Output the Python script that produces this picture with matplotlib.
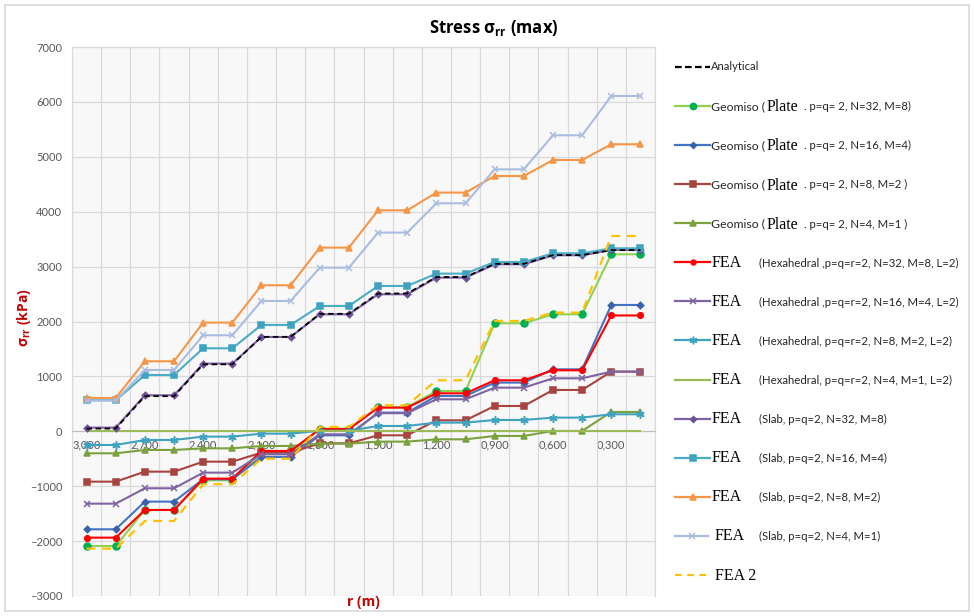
import matplotlib
matplotlib.use('Agg')
import matplotlib.pyplot as plt
from matplotlib.patches import Rectangle
import numpy as np

plt.rcParams['font.family'] = ['Lato', 'DejaVu Sans']
plt.rcParams['mathtext.fontset'] = 'custom'
plt.rcParams['mathtext.rm'] = 'Open Sans:bold'
plt.rcParams['mathtext.it'] = 'Open Sans:bold'
plt.rcParams['mathtext.bf'] = 'Open Sans:bold'

# rayon (m) - categories de l'axe x
r_values = [3.000, 2.850, 2.700, 2.550, 2.400, 2.250, 2.100, 1.950, 1.800, 1.650,
            1.500, 1.350, 1.200, 1.050, 0.900, 0.750, 0.600, 0.450, 0.300, 0.150]

analytical = [50, 50, 640, 640, 1220, 1220, 1720, 1720, 2140, 2140,
              2510, 2510, 2810, 2810, 3050, 3050, 3210, 3210, 3300, 3300]
geo_32 = [-2089, -2089, -1433, -1433, -893, -893, -389, -389, 49, 49,
          440, 440, 734, 734, 1967, 1967, 2131, 2131, 3224, 3224]
geo_16 = [-1785, -1785, -1281, -1281, -874, -874, -468, -468, -73, -73,
          340, 340, 644, 644, 887, 887, 1129, 1129, 2301, 2301]
geo_8 = [-917, -917, -735, -735, -553, -553, -389, -389, -219, -219,
         -73, -73, 200, 200, 461, 461, 753, 753, 1087, 1087]
geo_4 = [-401, -401, -340, -340, -310, -310, -267, -267, -225, -225,
         -188, -188, -146, -146, -85, -85, 6, 6, 352, 352]
hex_32 = [-1937, -1937, -1433, -1433, -862, -862, -358, -358, 40, 40,
          431, 431, 692, 692, 929, 929, 1111, 1111, 2110, 2110]
hex_16 = [-1318, -1318, -1038, -1038, -753, -753, -419, -419, -55, -55,
          330, 330, 583, 583, 795, 795, 965, 965, 1087, 1087]
hex_8 = [-249, -249, -158, -158, -97, -97, -43, -43, 10, 10,
         97, 97, 158, 158, 206, 206, 249, 249, 310, 310]
hex_4 = [0] * 20
slab_32 = [67, 67, 656, 656, 1233, 1233, 1718, 1718, 2131, 2131,
           2495, 2495, 2799, 2799, 3042, 3042, 3206, 3206, 3303, 3303]
slab_16 = [565, 565, 1026, 1026, 1512, 1512, 1937, 1937, 2283, 2283,
           2647, 2647, 2872, 2872, 3084, 3084, 3242, 3242, 3333, 3333]
slab_8 = [607, 607, 1275, 1275, 1980, 1980, 2660, 2660, 3346, 3346,
          4025, 4025, 4348, 4348, 4650, 4650, 4942, 4942, 5228, 5228]
slab_4 = [560, 560, 1117, 1117, 1749, 1749, 2374, 2374, 2981, 2981,
          3619, 3619, 4153, 4153, 4772, 4772, 5392, 5392, 6108, 6108]
fea_2 = [-2137, -2137, -1633, -1633, -965, -965, -498, -498, 79, 79,
         474, 474, 929, 929, 2010, 2010, 2162, 2162, 3558, 3558]

# (valeurs, couleur ligne, marqueur, taille, couleur marqueur)
series = [
    (geo_32, '#92D050', 'o', 5, '#00B050'),
    (geo_16, '#4472C4', 'D', 3.3, '#3A62AA'),
    (geo_8, '#A8443F', 's', 4.5, '#A8443F'),
    (geo_4, '#7BA23F', '^', 5, '#7BA23F'),
    (hex_32, '#FF0000', 'o', 4, '#FF0000'),
    (hex_16, '#8064A2', 'x', 5, '#8064A2'),
    (hex_8, '#3FA3BF', (6, 2, 0), 6, '#3FA3BF'),
    (hex_4, '#9BBB59', None, 0, '#9BBB59'),
    (slab_32, '#7F5FA8', 'D', 3.3, '#6F4F98'),
    (slab_16, '#4BACC6', 's', 4.5, '#3FA3BF'),
    (slab_8, '#F79646', '^', 5, '#F79646'),
    (slab_4, '#AABDE1', 'x', 5, '#AABDE1'),
]

fig = plt.figure(figsize=(9.74, 6.16), dpi=100)
W, H = 974, 616
ax = fig.add_axes([72 / W, 1 - 596 / H, (655 - 72) / W, (596 - 47) / H])
ax.set_facecolor('#F8F8F8')

x = np.arange(len(r_values))
for vals, col, mk, ms, mc in series:
    ax.plot(x, vals, color=col, lw=1.5, marker=mk, ms=ms,
            mfc=mc, mec=mc, mew=1.1, zorder=3)
ax.plot(x, analytical, color='black', lw=1.3, ls=(0, (3, 2)), zorder=4)
ax.plot(x, fea_2, color='#FFC000', lw=1.6, ls=(0, (4, 3)), zorder=4)

ax.set_xlim(-0.5, len(r_values) - 0.5)
ax.set_ylim(-3000, 7000)
ax.set_yticks(range(-3000, 7001, 1000))
ax.set_xticks(x[::2])
ax.set_xticklabels([f"{r:.3f}".replace('.', ',') for r in r_values[::2]])
ax.set_xticks(np.arange(-0.5, len(r_values), 1), minor=True)
ax.grid(axis='y', which='major', color='#D9D9D9', lw=0.9)
ax.grid(axis='x', which='minor', color='#D9D9D9', lw=0.9)
ax.set_axisbelow(True)
ax.tick_params(which='both', length=0, colors='#595959', labelsize=8)
ax.tick_params(axis='y', pad=7)
ax.tick_params(axis='x', pad=6)
ax.spines['bottom'].set_position(('data', 0))
ax.spines['bottom'].set_color('#BFBFBF')
for s in ['top', 'left', 'right']:
    ax.spines[s].set_color('#D9D9D9')

# calque en pixels pour titre, etiquettes et legende
lax = fig.add_axes([0, 0, 1, 1], zorder=-1)
lax.set_xlim(0, W)
lax.set_ylim(H, 0)
lax.axis('off')
lax.add_patch(Rectangle((5, 5), 964, 606, fill=False, ec='#D9D9D9', lw=1.2))

over = fig.add_axes([0, 0, 1, 1], zorder=5)
over.set_xlim(0, W)
over.set_ylim(H, 0)
over.axis('off')
over.patch.set_alpha(0)

over.text(494, 28, 'Stress σ$_{rr}$ (max)', ha='center', va='center', fontsize=12,
          fontweight='bold', family=['Open Sans'])
over.text(24, 318, 'σ$_{rr}$ (kPa)', ha='center', va='center', rotation=90,
          fontsize=10, fontweight='bold', color='#C00000', family=['Open Sans'])
over.text(363, 602, 'r (m)', ha='center', va='center', fontsize=10,
          fontweight='bold', color='#C00000', family=['Open Sans'])

# legende
legend_rows = [
    ('Analytical', None, 'black', None, 0, 'black', (0, (3, 1.5))),
    ('geo', '. p=q= 2, N=32, M=8)', '#92D050', 'o', 4.5, '#00B050', '-'),
    ('geo', '. p=q= 2, N=16, M=4)', '#4472C4', 'D', 3, '#3A62AA', '-'),
    ('geo', '. p=q= 2, N=8, M=2 )', '#A8443F', 's', 4, '#A8443F', '-'),
    ('geo', '. p=q= 2, N=4, M=1 )', '#7BA23F', '^', 4.5, '#7BA23F', '-'),
    ('fea', '(Hexahedral ,p=q=r=2, N=32, M=8, L=2)', '#FF0000', 'o', 3.5, '#FF0000', '-'),
    ('fea', '(Hexahedral ,p=q=r=2, N=16, M=4, L=2)', '#8064A2', 'x', 4.5, '#8064A2', '-'),
    ('fea', '(Hexahedral, p=q=r=2, N=8, M=2, L=2)', '#3FA3BF', (6, 2, 0), 5.5, '#3FA3BF', '-'),
    ('fea', '(Hexahedral, p=q=r=2, N=4, M=1, L=2)', '#9BBB59', None, 0, '#9BBB59', '-'),
    ('fea', '(Slab, p=q=2, N=32, M=8)', '#7F5FA8', 'D', 3, '#6F4F98', '-'),
    ('fea', '(Slab, p=q=2, N=16, M=4)', '#4BACC6', 's', 4, '#3FA3BF', '-'),
    ('fea', '(Slab, p=q=2, N=8, M=2)', '#F79646', '^', 4.5, '#F79646', '-'),
    ('fea', '(Slab, p=q=2, N=4, M=1)', '#AABDE1', 'x', 4.5, '#AABDE1', '-'),
    ('fea2', None, '#FFC000', None, 0, '#FFC000', (0, (3, 2.5))),
]
y0, dy = 66.7, 39.1
for i, (kind, txt, col, mk, ms, mc, ls) in enumerate(legend_rows):
    yc = y0 + dy * i
    yb = yc + 4.5
    x1 = 708 if kind == 'fea2' or i == 12 else 710
    over.plot([675, (675 + x1) / 2, x1], [yc] * 3, color=col, lw=1.6, ls=ls,
              marker=mk, ms=ms, mfc=mc, mec=mc, mew=1.1, markevery=[1])
    if kind == 'Analytical':
        over.text(711, yb - 1, 'Analytical', fontsize=8, va='baseline', color='#262626')
    elif kind == 'geo':
        over.text(711, yb, 'Geomiso (', fontsize=8.8, va='baseline', color='#262626')
        over.text(767, yb + 1, 'Plate', fontsize=11.5, va='baseline',
                  family=['Liberation Serif'])
        over.text(804, yb, txt, fontsize=8.2, va='baseline', color='#262626')
    elif kind == 'fea':
        fx = 715 if i == 12 else 712
        over.text(fx, yb, 'FEA', fontsize=11.5, va='baseline', family=['Liberation Serif'])
        over.text(759, yb, txt, fontsize=8.2, va='baseline', color='#262626')
    else:
        over.text(715, yb, 'FEA 2', fontsize=11.5, va='baseline', family=['Liberation Serif'])

fig.savefig('out.png', dpi=100)
